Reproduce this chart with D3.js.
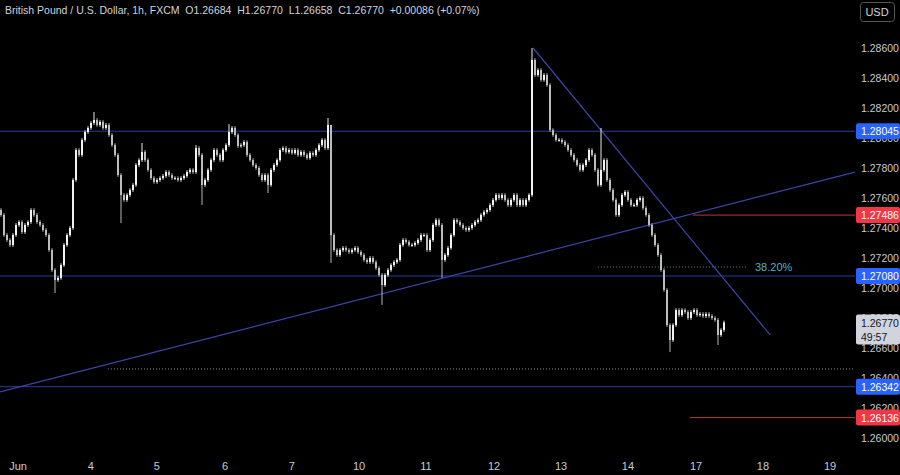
<!DOCTYPE html>
<html><head><meta charset="utf-8">
<script src="https://cdn.jsdelivr.net/npm/d3@7/dist/d3.min.js"></script>
<style>body{margin:0;background:#000;}svg{display:block;font-family:"Liberation Sans",Arial,sans-serif;}</style>
</head><body><svg id="c" width="900" height="475"></svg>
<script>
const firstOpen = 1.27520;
const closes = [1.27487,1.27353,1.27320,1.27287,1.27353,1.27420,1.27440,1.27373,1.27420,1.27440,1.27520,1.27487,1.27440,1.27420,1.27387,1.27353,1.27253,1.27120,1.27053,1.27067,1.27153,1.27287,1.27353,1.27400,1.27720,1.27920,1.27887,1.27987,1.28040,1.28067,1.28100,1.28120,1.28087,1.28107,1.28067,1.28087,1.28020,1.27953,1.27887,1.27753,1.27620,1.27587,1.27620,1.27653,1.27687,1.27820,1.27853,1.27907,1.27853,1.27787,1.27733,1.27707,1.27720,1.27733,1.27747,1.27773,1.27753,1.27733,1.27733,1.27720,1.27733,1.27747,1.27773,1.27787,1.27773,1.27933,1.27887,1.27687,1.27720,1.27787,1.27853,1.27920,1.27887,1.27853,1.27920,1.27953,1.28040,1.28067,1.28020,1.27947,1.27953,1.27973,1.27887,1.27853,1.27820,1.27800,1.27753,1.27720,1.27753,1.27687,1.27787,1.27820,1.27853,1.27920,1.27933,1.27907,1.27920,1.27900,1.27920,1.27887,1.27907,1.27887,1.27867,1.27900,1.27887,1.27920,1.27953,1.27987,1.27933,1.28087,1.27353,1.27253,1.27220,1.27253,1.27267,1.27253,1.27240,1.27253,1.27267,1.27240,1.27220,1.27187,1.27173,1.27200,1.27173,1.27133,1.27087,1.27020,1.27087,1.27120,1.27153,1.27173,1.27187,1.27287,1.27320,1.27307,1.27287,1.27287,1.27300,1.27320,1.27353,1.27353,1.27253,1.27320,1.27420,1.27453,1.27420,1.27187,1.27220,1.27267,1.27353,1.27453,1.27440,1.27420,1.27400,1.27387,1.27400,1.27420,1.27440,1.27453,1.27487,1.27507,1.27520,1.27553,1.27587,1.27620,1.27600,1.27620,1.27587,1.27553,1.27587,1.27620,1.27553,1.27587,1.27553,1.27587,1.27620,1.28520,1.28420,1.28453,1.28387,1.28420,1.28353,1.28053,1.28020,1.27987,1.27987,1.27973,1.27953,1.27920,1.27887,1.27853,1.27820,1.27787,1.27820,1.27853,1.27920,1.27887,1.27787,1.27687,1.27787,1.27853,1.27720,1.27653,1.27587,1.27487,1.27553,1.27620,1.27640,1.27587,1.27553,1.27553,1.27587,1.27600,1.27533,1.27487,1.27420,1.27353,1.27287,1.27220,1.27120,1.26987,1.26753,1.26653,1.26753,1.26853,1.26820,1.26853,1.26840,1.26800,1.26840,1.26853,1.26820,1.26827,1.26813,1.26827,1.26813,1.26800,1.26787,1.26687,1.26720,1.26770];
// notable wick extremes: [bar index, high, low]
const wickExtremes = [[18,null,1.26967],[31,1.28173,null],[40,null,1.27433],[47,1.27967,null],[65,1.27953,null],[67,null,1.27553],[76,1.28093,null],[89,null,1.27633],[109,1.28133,null],[110,1.28087,1.27167],[127,null,1.26887],[147,null,1.27067],[177,1.28600,null],[200,1.28067,null],[223,null,1.26573],[239,null,1.26620]];
const defaultWick = 0.00012;
const priceTicks = [1.26000,1.26200,1.26400,1.26600,1.26800,1.27000,1.27200,1.27400,1.27600,1.27800,1.28000,1.28200,1.28400,1.28600];
const dayLabels = ["Jun","4","5","6","7","10","11","12","13","14","17","18","19"];
const dayIndex = [6,30.3,52.3,75,97.3,119.7,142,164.7,187,209.3,232,254.3,276.7];
const hLevels = [{p:1.28045},{p:1.27080},{p:1.26342}];
const redLevels = [{p:1.27486,from:231},{p:1.26136,from:230}];
const dottedLevel = {p:1.26460,from:36};
const fibLevel = {p:1.27140,from:199.3,to:249,label:"38.20%"};
const trendUp = [[0,1.26307],[285,1.27773]];
const trendDown = [[177.7,1.28600],[256.7,1.26687]];
const lastPrice = 1.26770, countdown = "49:57";
const header = "British Pound / U.S. Dollar, 1h, FXCM  O1.26684  H1.26770  L1.26658  C1.26770  +0.00086 (+0.07%)";

const svg = d3.select("#c");
const plotR = 855;
const x = d3.scaleLinear().domain([0,285]).range([0,plotR]);
const y = d3.scaleLinear().domain([1.26,1.286]).range([438,48]);

svg.append("rect").attr("width",900).attr("height",475).attr("fill","#000");
const g = svg.append("g");
hLevels.forEach(l=>g.append("line").attr("x1",0).attr("x2",plotR).attr("y1",y(l.p)).attr("y2",y(l.p)).attr("stroke","#2f3a9e").attr("stroke-width",1));
redLevels.forEach(l=>g.append("line").attr("x1",x(l.from)).attr("x2",plotR).attr("y1",y(l.p)).attr("y2",y(l.p)).attr("stroke","#b83a3a").attr("stroke-width",1));
g.append("line").attr("x1",x(dottedLevel.from)).attr("x2",plotR).attr("y1",y(dottedLevel.p)).attr("y2",y(dottedLevel.p)).attr("stroke","#888").attr("stroke-dasharray","1,2");
g.append("line").attr("x1",x(fibLevel.from)).attr("x2",x(fibLevel.to)).attr("y1",y(fibLevel.p)).attr("y2",y(fibLevel.p)).attr("stroke","#4a8f8f").attr("stroke-dasharray","1,2");
g.append("text").attr("x",x(fibLevel.to)+8).attr("y",y(fibLevel.p)+4).attr("fill","#4fb3bf").attr("font-size",11).text(fibLevel.label);
[trendUp,trendDown].forEach(t=>g.append("line").attr("x1",x(t[0][0])).attr("y1",y(t[0][1])).attr("x2",x(t[1][0])).attr("y2",y(t[1][1])).attr("stroke","#3a45a8").attr("stroke-width",1.2));

const ov = new Map(wickExtremes.map(d=>[d[0],d]));
const bars = closes.map((c,i)=>{
  const o = i===0?firstOpen:closes[i-1];
  let h = Math.max(o,c)+defaultWick, l = Math.min(o,c)-defaultWick;
  const e = ov.get(i); if(e){ if(e[1]!=null) h=e[1]; if(e[2]!=null) l=e[2]; }
  return {i,o,c,h,l};
});
const cg = g.append("g");
cg.selectAll(".w").data(bars).join("line").attr("x1",d=>x(d.i)+1).attr("x2",d=>x(d.i)+1).attr("y1",d=>y(d.h)).attr("y2",d=>y(d.l)).attr("stroke",d=>d.c>=d.o?"#e8e8e8":"#b8b8b8").attr("stroke-width",1);
cg.selectAll(".b").data(bars).join("rect").attr("x",d=>x(d.i)).attr("width",2).attr("y",d=>y(Math.max(d.o,d.c))).attr("height",d=>Math.max(1,Math.abs(y(d.o)-y(d.c)))).attr("fill",d=>d.c>=d.o?"#f2f2f2":"#bdbdbd");

const ax = svg.append("g").attr("font-size",10.5).attr("fill","#c8cad0");
ax.selectAll(".pt").data(priceTicks).join("text").attr("x",861).attr("y",d=>y(d)+4).text(d=>d.toFixed(5));
ax.selectAll(".dl").data(dayLabels).join("text").attr("x",(d,i)=>x(dayIndex[i])).attr("y",470).attr("font-size",11).attr("text-anchor","middle").text(d=>d);

function box(p,fill,txt,tc){
  svg.append("rect").attr("x",856).attr("y",y(p)-8).attr("width",44).attr("height",16).attr("rx",2).attr("fill",fill);
  svg.append("text").attr("x",861).attr("y",y(p)+4).attr("font-size",10.5).attr("fill",tc).text(txt);
}
hLevels.forEach(l=>box(l.p,"#2962ff",l.p.toFixed(5),"#fff"));
redLevels.forEach(l=>box(l.p,"#f23645",l.p.toFixed(5),"#fff"));
svg.append("rect").attr("x",856).attr("y",y(lastPrice)-8).attr("width",44).attr("height",30).attr("rx",2).attr("fill","#d1d4dc");
svg.append("text").attr("x",861).attr("y",y(lastPrice)+4).attr("font-size",10.5).attr("fill","#131722").text(lastPrice.toFixed(5));
svg.append("text").attr("x",861).attr("y",y(lastPrice)+18).attr("font-size",10.5).attr("fill","#131722").text(countdown);

svg.append("rect").attr("x",860.5).attr("y",2.5).attr("width",34).attr("height",19).attr("rx",3).attr("fill","none").attr("stroke","#555");
svg.append("text").attr("x",877).attr("y",16).attr("text-anchor","middle").attr("font-size",11).attr("fill","#d1d4dc").text("USD");
svg.append("text").attr("x",5).attr("y",14).attr("font-size",10.5).attr("fill","#d1d4dc").style("white-space","pre").text(header);
</script></body></html>
